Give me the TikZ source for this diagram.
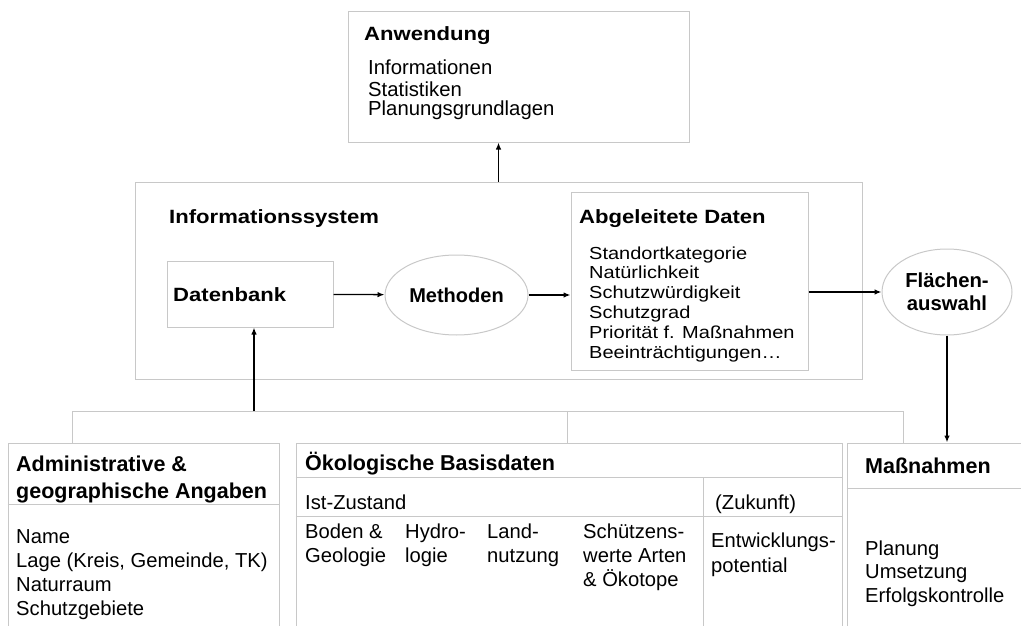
\documentclass[tikz,border=0pt]{standalone}
\usepackage{fontspec}
\setmainfont{Liberation Sans}
\newfontfamily\widefont[FakeStretch=1.15]{Liberation Sans}
\usetikzlibrary{arrows.meta,shapes.geometric}
\definecolor{boxgray}{RGB}{200,200,200}

\begin{document}
\begin{tikzpicture}[x=1pt,y=-1pt,>={Latex[length=7pt,width=5.5pt]},
    box/.style={rectangle,draw=boxgray,line width=1pt,inner sep=0pt},
    oval/.style={ellipse,draw=boxgray,line width=1pt,inner sep=0pt},
    sep/.style={draw=boxgray,line width=1pt},
    flow/.style={->,line width=1.3pt},
    head/.style={anchor=base west,inner sep=0pt,align=left,
                 font=\bfseries\fontsize{21.5}{27}\selectfont},
    widehead/.style={anchor=base west,inner sep=0pt,
                 font=\widefont\bfseries\fontsize{19.2}{22}\selectfont},
    list/.style={anchor=base west,inner sep=0pt,align=left,
                 font=\fontsize{20.2}{23.7}\selectfont}]
  \useasboundingbox (0,0) rectangle (1021,626);
  \clip (0,0) rectangle (1021,626);

  % upper part (list nodes sit on the baseline of their last line)
  \node[box,minimum width=341,minimum height=130] (anw) at (518.5,77) {};
  \node[widehead] (anwtitle) at (364,41) {Anwendung};
  \node[list,font=\fontsize{20.3}{20.5}\selectfont] (anwlist) at (368,116)
       {Informationen\\[2.5pt]Statistiken\\[-1.5pt]Planungsgrundlagen};

  \node[box,minimum width=727,minimum height=197] (infosys) at (498.5,280.5) {};
  \node[widehead] (infotitle) at (169,223) {Informationssystem};

  \node[box,minimum width=166,minimum height=66] (db) at (250,294) {};
  \node[widehead] (dbtitle) at (173,301) {Datenbank};

  \node[oval,minimum width=143,minimum height=80,
        font=\bfseries\fontsize{20}{23}\selectfont] (meth) at (456.5,295) {Methoden};

  \node[box,minimum width=237,minimum height=178] (abg) at (689.5,281) {};
  \node[widehead] (abgtitle) at (579,223) {Abgeleitete Daten};
  \node[list,font=\widefont\fontsize{17.4}{19.8}\selectfont] (abglist) at (589,358)
       {Standortkategorie\\Natürlichkeit\\Schutzwürdigkeit\\Schutzgrad\\
        Priorität f. Maßnahmen\\Beeinträchtigungen\dots};

  \node[oval,minimum width=130,minimum height=86,align=center,
        font=\bfseries\fontsize{20.3}{23}\selectfont] (fla) at (947,292) {Flächen-\\auswahl};

  % lower part
  \node[box,minimum width=271,minimum height=207] (adm) at (143.5,546.5) {};
  \node[box,minimum width=546,minimum height=207] (oek) at (569,546.5) {};
  \node[box,minimum width=193,minimum height=207] (mass) at (943.5,546.5) {};
  \draw[sep] ([yshift=-62pt]adm.north west) -- ([yshift=-62pt]adm.north east);
  \draw[sep] ([yshift=-35pt]oek.north west) -- ([yshift=-35pt]oek.north east);
  \draw[sep] ([yshift=-74pt]oek.north west) -- ([yshift=-74pt]oek.north east);
  \draw[sep] ([xshift=-139pt,yshift=-35pt]oek.north east) -- ([xshift=-139pt]oek.south east);
  \draw[sep] ([yshift=-46pt]mass.north west) -- ([yshift=-46pt]mass.north east);

  \node[head] (admtitle) at (16,498) {Administrative \&\\geographische Angaben};
  \node[list] (admlist) at (16,615)
       {Name\\Lage (Kreis, Gemeinde, TK)\\Naturraum\\Schutzgebiete};

  \node[head] (oektitle) at (305,470) {Ökologische Basisdaten};
  \node[list] (ist) at (305,509) {Ist-Zustand};
  \node[list] (zuk) at (715,509) {(Zukunft)};
  \node[list,font=\fontsize{20.2}{24}\selectfont] (boden) at (305,562) {Boden \&\\Geologie};
  \node[list,font=\fontsize{20.2}{24}\selectfont] (hydro) at (405,562) {Hydro-\\logie};
  \node[list,font=\fontsize{20.2}{24}\selectfont] (land) at (487,562) {Land-\\nutzung};
  \node[list,font=\fontsize{20.2}{24}\selectfont] (arten) at (583,586)
       {Schützens-\\werte Arten\\\& Ökotope};
  \node[list,font=\fontsize{20.2}{25}\selectfont] (entw) at (711,572)
       {Entwicklungs-\\potential};

  \node[head] (masstitle) at (865,473) {Maßnahmen};
  \node[list,font=\fontsize{20.2}{23.5}\selectfont] (masslist) at (865,602)
       {Planung\\Umsetzung\\Erfolgskontrolle};

  % connectors
  \coordinate (busl) at (72,411);
  \coordinate (busm) at (567,411);
  \coordinate (busr) at (903,411);
  \coordinate (busdb) at (254,411);
  \draw[sep] (busl |- adm.north) -- (busl) -- (busr) -- (busr |- mass.north);
  \draw[sep] (busm) -- (busm |- oek.north);

  \draw[flow] (busdb) -- (busdb |- db.south);
  \draw[flow] (db) -- (meth);
  \draw[flow] (meth) -- (meth -| abg.west);
  \draw[flow] (fla -| abg.east) -- (fla);
  \draw[flow] (fla) -- (fla |- mass.north);
  \draw[flow] (infosys.north) -- (infosys.north |- anw.south);
\end{tikzpicture}
\end{document}
